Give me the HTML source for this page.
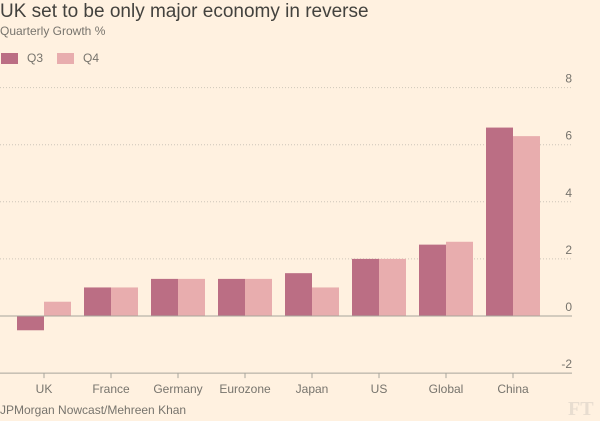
<!DOCTYPE html>
<html><head><meta charset="utf-8"><style>
body{margin:0;background:#fff1e0;}
#c{position:relative;width:600px;height:421px;background:#fff1e0;font-family:"Liberation Sans",sans-serif;overflow:hidden}
.t{position:absolute;white-space:nowrap}
</style></head><body>
<div id="c">
<div class="t" style="left:0;top:1px;font-size:19px;color:#43423e">UK set to be only major economy in reverse</div>
<div class="t" style="left:0;top:24px;font-size:12px;color:#77746d">Quarterly Growth %</div>
<div style="position:absolute;left:1px;top:53px;width:17px;height:11px;background:#bb6e84"></div>
<div class="t" style="left:27px;top:51px;font-size:12px;color:#77746d">Q3</div>
<div style="position:absolute;left:57px;top:53px;width:17px;height:11px;background:#e8adae"></div>
<div class="t" style="left:83px;top:51px;font-size:12px;color:#77746d">Q4</div>
<svg id="s" width="600" height="421" style="position:absolute;left:0;top:0"></svg>
<div class="t" style="left:0;top:403px;font-size:12px;color:#77746d">JPMorgan Nowcast/Mehreen Khan</div>
<div class="t" style="left:568px;top:398px;font-size:20px;font-family:'Liberation Serif',serif;color:#e8ddd0;font-weight:bold">FT</div>
</div>
<script>
const categories=["UK","France","Germany","Eurozone","Japan","US","Global","China"];
const q3=[-0.5,1.0,1.3,1.3,1.5,2.0,2.5,6.6];
const q4=[0.5,1.0,1.3,1.3,1.0,2.0,2.6,6.3];
const ticks=[-2,0,2,4,6,8];
const NS="http://www.w3.org/2000/svg";
const s=document.getElementById('s');
const y=v=>316-v*28.55;
const xc=i=>44+i*67;
function mk(t,a){const e=document.createElementNS(NS,t);for(const k in a)e.setAttribute(k,a[k]);s.appendChild(e);return e;}
ticks.forEach(v=>{
 if(v!==-2&&v!==0){const l=mk('line',{x1:0,x2:572,y1:y(v),y2:y(v),stroke:'#cec6b9','stroke-dasharray':'1,2'});
 
 }
 const t=mk('text',{x:572,y:y(v)-5,'text-anchor':'end','font-size':12,fill:'#77746d','font-family':'Liberation Sans'});
 t.textContent=v;
 
 
});
categories.forEach((c,i)=>{
 const w=27;
 const b1=mk('rect',{x:xc(i)-w,y:Math.min(y(q3[i]),y(0)),width:w,height:Math.abs(y(q3[i])-y(0)),fill:'#bb6e84'});
 
 
 const b2=mk('rect',{x:xc(i),y:Math.min(y(q4[i]),y(0)),width:w,height:Math.abs(y(q4[i])-y(0)),fill:'#e8adae'});
 
 
 const tk=mk('line',{x1:xc(i),x2:xc(i),y1:y(-2),y2:y(-2)+5,stroke:'#a7a59b'});
 
 
 const t=mk('text',{x:xc(i),y:393,'text-anchor':'middle','font-size':12,fill:'#77746d','font-family':'Liberation Sans'});
 t.textContent=c;
 
 
});
const z=mk('line',{x1:0,x2:572,y1:y(0),y2:y(0),stroke:'#a7a59b'});


const ax=mk('line',{x1:0,x2:572,y1:y(-2),y2:y(-2),stroke:'#a7a59b'});


</script>
</body></html>
